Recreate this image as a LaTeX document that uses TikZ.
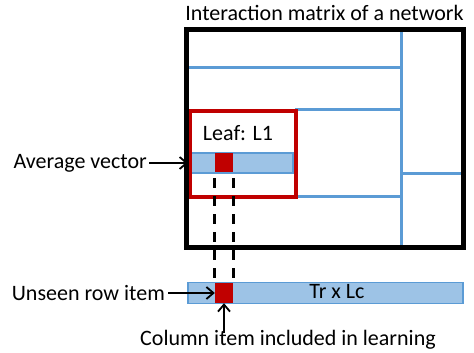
\documentclass[tikz,border=0pt]{standalone}
\usepackage{fontspec}
\setmainfont{Carlito}
\usetikzlibrary{arrows.meta,positioning,calc}
\definecolor{cellblue}{RGB}{157,195,230}
\definecolor{lineblue}{RGB}{91,155,213}
\definecolor{leafred}{RGB}{192,0,0}

\begin{document}
\begin{tikzpicture}[x=1pt,y=-1pt,
    txt/.style={inner sep=0pt,font=\fontsize{22}{25}\selectfont},
    split/.style={draw=lineblue,line width=3pt},
    cell/.style={fill=leafred,draw=none,inner sep=0pt,minimum width=18pt,minimum height=19pt},
    pointer/.style={-{Straight Barb[length=7pt,width=12pt]},line width=1.8pt}]
  \useasboundingbox (0,0) rectangle (474,353);

  % splits of the matrix
  \draw[split] (401,30) -- (401,247);
  \draw[split] (188,68) -- (401,68);
  \draw[split] (295,109) -- (401,109);
  \draw[split] (295,196) -- (401,196);
  \draw[split] (401,173) -- (463,173);

  % leaf L1 with its average vector
  \draw[draw=lineblue,fill=cellblue,line width=2pt] (188,153) rectangle (293,173);
  \node[cell] (avg) at (224,162.5) {};
  \node[draw=leafred,line width=3.5pt,minimum width=106pt,minimum height=86pt,
        inner sep=0pt,anchor=north west] (leaf) at (188,109) {};
  \node[txt] (leaftext) at (238,133) {Leaf: L1};

  % matrix frame
  \node[draw,line width=5pt,minimum width=277pt,minimum height=217pt,inner sep=0pt]
    (matrix) at (324.5,138.5) {};
  \node[txt,above=7pt of matrix] (title) {Interaction matrix of a network};

  % test row
  \node[draw=lineblue,fill=cellblue,line width=1.5pt,minimum width=275pt,
        minimum height=21pt,inner sep=0pt] (row) at (325.5,293) {};
  \node[cell,minimum height=20pt] (unseen) at (224,293) {};
  \node[txt] (trlc) at (337,292) {Tr x Lc};

  % projection of the column
  \draw[line width=3pt,dash pattern=on 10pt off 8pt]
    ([yshift=-6pt]avg.south west) -- ([yshift=5pt]unseen.north west)
    ([yshift=-6pt]avg.south east) -- ([yshift=5pt]unseen.north east);

  % labels
  \node[txt,anchor=east] (avglabel) at (147,163) {Average vector};
  \draw[pointer] ([xshift=2pt]avglabel.east) -- (avglabel.east -| leaf.west);
  \node[txt,anchor=east] (unseenlabel) at (165,293) {Unseen row item};
  \draw[pointer] ([xshift=3pt]unseenlabel.east) -- (unseen.west);
  \node[txt] (collabel) at (288,340) {Column item included in learning};
  \draw[pointer] ([yshift=-3pt]unseen.south |- collabel.north) -- (unseen.south);
\end{tikzpicture}
\end{document}
